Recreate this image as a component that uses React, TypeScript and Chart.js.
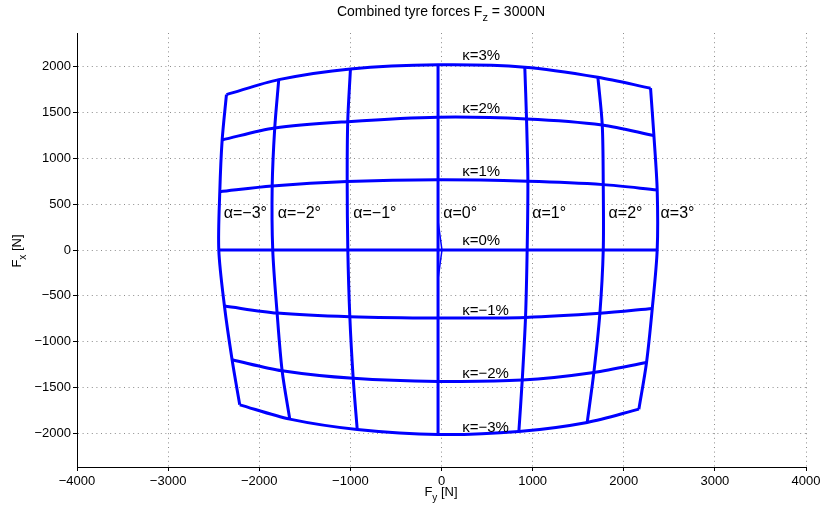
import React, { useEffect, useRef } from 'react';
import { Chart, registerables } from 'chart.js';

Chart.register(...registerables);

// Slip angle levels (deg) and longitudinal slip levels (%)
const alphaDeg = [-3, -2, -1, 0, 1, 2, 3];
const kappaPct = [3, 2, 1, 0, -1, -2, -3];

// Lateral force Fy [N] and longitudinal force Fx [N], one row per kappa, columns alpha -3..3
const fyK3 = [-2360, -1786, -999, -38, 914, 1716, 2294];
const fxK3 = [1697, 1861, 1978, 2022, 1997, 1887, 1767];
const fyK2 = [-2407, -1830, -1029, -38, 933, 1764, 2331];
const fxK2 = [1202, 1333, 1402, 1450, 1432, 1366, 1249];
const fyK1 = [-2433, -1858, -1035, -38, 948, 1775, 2367];
const fxK1 = [637, 699, 747, 766, 750, 714, 656];
const fyK0 = [-2444, -1852, -1028, -38, 940, 1775, 2367];
const fxK0 = [0, 0, 0, 0, 0, 0, 0];
const fyKm1 = [-2382, -1804, -1006, -38, 922, 1738, 2313];
const fxKm1 = [-612, -689, -729, -743, -736, -692, -638];
const fyKm2 = [-2298, -1749, -969, -38, 886, 1672, 2250];
const fxKm2 = [-1199, -1319, -1402, -1435, -1421, -1337, -1228];
const fyKm3 = [-2214, -1665, -925, -38, 849, 1599, 2166];
const fxKm3 = [-1691, -1847, -1960, -2015, -1982, -1883, -1738];

const fyRows = [fyK3, fyK2, fyK1, fyK0, fyKm1, fyKm2, fyKm3];
const fxRows = [fxK3, fxK2, fxK1, fxK0, fxKm1, fxKm2, fxKm3];

// small spike of the alpha = 0 curve around kappa = 0
const spikeFy = [-38, 5, -38];
const spikeFx = [317, 0, -317];

// label anchors (data units)
const alphaLabelFy = [-2390, -1797, -969, 19, 996, 1833, 2404];
const alphaLabelFx = 393;
const kappaLabelFy = 227;
const kappaLabelFx = [2115, 1541, 849, 102, -663, -1355, -1938];

// axis ticks
const xTickValues = [-4000, -3000, -2000, -1000, 0, 1000, 2000, 3000, 4000];
const yTickValues = [-2000, -1500, -1000, -500, 0, 500, 1000, 1500, 2000];
const yMin = -2370;
const yMax = 2370;

const FONT = '"Liberation Sans", Arial, Helvetica, sans-serif';
const BLUE = '#0000ff';

const fmt = (v: number) => (v < 0 ? '\u2212' + Math.abs(v) : String(v));

type Part = { t: string; sub?: boolean };

function drawRich(ctx: CanvasRenderingContext2D, parts: Part[], cx: number, cy: number, size: number) {
  const subSize = Math.round(size * 0.75);
  let total = 0;
  const widths = parts.map((p) => {
    ctx.font = `${p.sub ? subSize : size}px ${FONT}`;
    const w = ctx.measureText(p.t).width;
    total += w;
    return w;
  });
  let x = cx - total / 2;
  ctx.textBaseline = 'middle';
  ctx.textAlign = 'left';
  parts.forEach((p, i) => {
    ctx.font = `${p.sub ? subSize : size}px ${FONT}`;
    ctx.fillText(p.t, x, p.sub ? cy + size * 0.45 : cy);
    x += widths[i];
  });
}

const textPlugin = {
  id: 'textPlugin',
  afterDraw(chart: any) {
    const ctx: CanvasRenderingContext2D = chart.ctx;
    const xs = chart.scales.x;
    const ys = chart.scales.y;
    ctx.save();
    ctx.fillStyle = '#000';
    drawRich(ctx, [{ t: 'Combined tyre forces F' }, { t: 'z', sub: true }, { t: ' = 3000N' }], 441, 12, 14);
    drawRich(ctx, [{ t: 'F' }, { t: 'y', sub: true }, { t: ' [N]' }], 441, 492, 13);
    ctx.save();
    ctx.translate(17, 251);
    ctx.rotate(-Math.PI / 2);
    drawRich(ctx, [{ t: 'F' }, { t: 'x', sub: true }, { t: ' [N]' }], 0, 0, 13);
    ctx.restore();
    ctx.font = `16px ${FONT}`;
    ctx.textAlign = 'left';
    ctx.textBaseline = 'middle';
    alphaDeg.forEach((a, i) => {
      ctx.fillText('\u03b1=' + fmt(a) + '\u00b0', xs.getPixelForValue(alphaLabelFy[i]), ys.getPixelForValue(alphaLabelFx));
    });
    ctx.font = `15px ${FONT}`;
    kappaPct.forEach((k, i) => {
      ctx.fillText('\u03ba=' + fmt(k) + '%', xs.getPixelForValue(kappaLabelFy), ys.getPixelForValue(kappaLabelFx[i]));
    });
    ctx.restore();
  },
};

export default function App() {
  const ref = useRef<HTMLCanvasElement | null>(null);
  useEffect(() => {
    if (!ref.current) return;
    const datasets: any[] = [];
    kappaPct.forEach((k, i) => {
      datasets.push({
        label: 'kappa ' + k,
        data: alphaDeg.map((_, j) => ({ x: fyRows[i][j], y: fxRows[i][j] })),
        showLine: true,
        borderColor: BLUE,
        borderWidth: 3,
        pointRadius: 0,
        tension: 0.3,
        fill: false,
      });
    });
    alphaDeg.forEach((a, j) => {
      datasets.push({
        label: 'alpha ' + a,
        data: kappaPct.map((_, i) => ({ x: fyRows[i][j], y: fxRows[i][j] })),
        showLine: true,
        borderColor: BLUE,
        borderWidth: 3,
        pointRadius: 0,
        tension: 0.3,
        fill: false,
      });
    });
    datasets.push({
      label: 'alpha 0 spike',
      data: spikeFy.map((v, i) => ({ x: v, y: spikeFx[i] })),
      showLine: true,
      borderColor: BLUE,
      borderWidth: 1.5,
      pointRadius: 0,
      tension: 0,
      fill: false,
    });

    const chart = new Chart(ref.current, {
      type: 'scatter',
      data: { datasets },
      plugins: [textPlugin],
      options: {
        animation: false,
        responsive: true,
        maintainAspectRatio: false,
        layout: { padding: { top: 33, right: 18, left: 0, bottom: 0 } },
        plugins: { legend: { display: false }, tooltip: { enabled: false }, title: { display: false } },
        scales: {
          x: {
            type: 'linear',
            min: xTickValues[0],
            max: xTickValues[xTickValues.length - 1],
            afterFit: (s: any) => {
              s.height = 45;
            },
            afterBuildTicks: (s: any) => {
              s.ticks = xTickValues.map((v) => ({ value: v }));
            },
            ticks: {
              color: '#000',
              padding: 3,
              maxRotation: 0,
              autoSkip: false,
              font: { family: FONT, size: 13 },
              callback: (v: any) => fmt(Number(v)),
            },
            grid: { color: '#8c8c8c', lineWidth: 1, tickLength: 4, tickColor: '#000', tickBorderDash: [] },
            border: { display: true, color: '#000', width: 1, dash: [1, 3.6] },
          },
          y: {
            type: 'linear',
            min: yMin,
            max: yMax,
            afterFit: (s: any) => {
              s.width = 77;
            },
            afterBuildTicks: (s: any) => {
              s.ticks = yTickValues.map((v) => ({ value: v }));
            },
            ticks: {
              color: '#000',
              padding: 2,
              autoSkip: false,
              font: { family: FONT, size: 13 },
              callback: (v: any) => fmt(Number(v)),
            },
            grid: { color: '#8c8c8c', lineWidth: 1, tickLength: 4, tickColor: '#000', tickBorderDash: [] },
            border: { display: true, color: '#000', width: 1, dash: [1, 3.6] },
          },
        },
      } as any,
    });
    return () => chart.destroy();
  }, []);
  return (
    <div style={{ position: 'fixed', left: 0, top: 0, width: 824, height: 512, background: '#fff' }}>
      <canvas ref={ref} />
    </div>
  );
}
